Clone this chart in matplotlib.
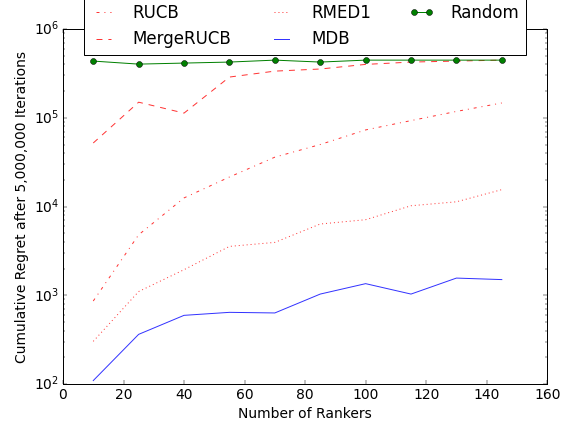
import matplotlib
matplotlib.use("Agg")
import matplotlib.pyplot as plt

plt.style.use('classic')
plt.rcParams['mathtext.fontset'] = 'dejavusans'
plt.rcParams['mathtext.default'] = 'regular'
plt.rcParams['font.size'] = 14

# number of rankers on the x axis
rankers = [10, 25, 40, 55, 70, 85, 100, 115, 130, 145]

# cumulative regret after 5M iterations
rucb = [860, 4800, 12500, 21500, 36000, 50000, 73000, 93000, 118000, 147000]
merge_rucb = [52000, 150000, 113000, 288000, 336000, 355000, 400000, 425000, 436000, 447000]
rmed1 = [302, 1100, 1940, 3550, 3940, 6350, 7100, 10200, 11300, 15500]
mdb = [109, 362, 593, 641, 631, 1030, 1350, 1030, 1560, 1500]
random_ = [436000, 403000, 414000, 425000, 447000, 425000, 447000, 447000, 447000, 447000]

fig = plt.figure(figsize=(570 / 71.25, 428 / 71.25), facecolor='white')
ax = fig.add_subplot(111)
fig.subplots_adjust(left=0.1105, right=0.96, top=0.932, bottom=0.103)

ax.plot(rankers, rucb, 'r-.', alpha=0.8, label='RUCB')
ax.plot(rankers, merge_rucb, 'r--', alpha=0.8, label='MergeRUCB')
ax.plot(rankers, rmed1, 'r:', alpha=0.8, label='RMED1')
ax.plot(rankers, mdb, 'b-', alpha=0.8, label='MDB')
ax.plot(rankers, random_, 'g-', marker='o', markersize=6, label='Random')

ax.set_yscale('log')
ax.set_xlim(0, 160)
ax.set_ylim(1e2, 1e6)
ax.set_xlabel('Number of Rankers')
ax.set_ylabel('Cumulative Regret after 5,000,000 Iterations')

ax.legend(loc='lower center', bbox_to_anchor=(0.5, 0.927), ncol=3,
          fontsize=16.8, handlelength=1.5, handletextpad=1.0,
          columnspacing=2.3, numpoints=2, borderaxespad=0, frameon=True)

fig.savefig('out.png', dpi=71.25, facecolor='white')
